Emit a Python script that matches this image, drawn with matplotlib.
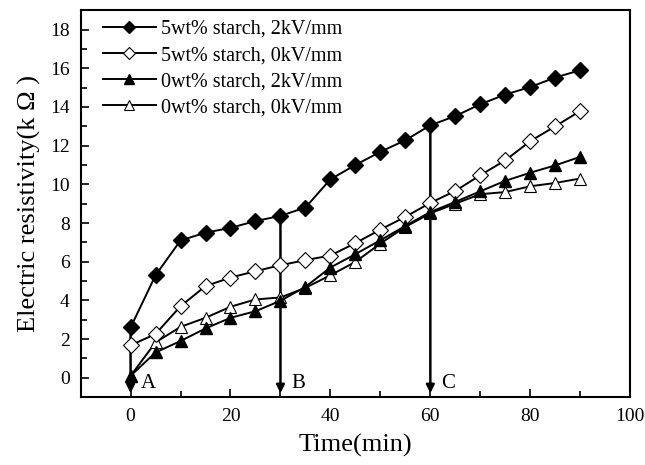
import matplotlib.pyplot as plt
from matplotlib.ticker import MultipleLocator

plt.rcParams['font.family'] = ['Liberation Serif', 'DejaVu Serif']

# Time points and resistivity values (k Ohm)
time = [0, 5, 10, 15, 20, 25, 30, 35, 40, 45, 50, 55, 60, 65, 70, 75, 80, 85, 90]
s5_2kv = [2.6, 5.3, 7.1, 7.5, 7.75, 8.1, 8.37, 8.8, 10.26, 11.0, 11.68, 12.28,
          13.05, 13.53, 14.14, 14.64, 15.03, 15.52, 15.9]
s5_0kv = [1.68, 2.26, 3.7, 4.74, 5.18, 5.51, 5.82, 6.08, 6.32, 6.96, 7.66, 8.32,
          9.04, 9.66, 10.47, 11.24, 12.23, 13.0, 13.79]
s0_2kv = [0.1, 1.31, 1.9, 2.55, 3.1, 3.44, 3.98, 4.7, 5.7, 6.39, 7.11, 7.85,
          8.57, 9.09, 9.64, 10.18, 10.6, 10.98, 11.42]
s0_0kv = [0.1, 1.83, 2.63, 3.1, 3.67, 4.05, 4.15, 4.65, 5.3, 5.99, 6.94, 7.8,
          8.5, 9.0, 9.49, 9.6, 9.9, 10.07, 10.3]

labels = ['5wt% starch, 2kV/mm', '5wt% starch, 0kV/mm',
          '0wt% starch, 2kV/mm', '0wt% starch, 0kV/mm']
arrow_times = [0, 30, 60]
arrow_labels = ['A', 'B', 'C']

fig = plt.figure(figsize=(6.45, 4.65), dpi=100)
ax = fig.add_axes([0.125, 0.146, 0.852, 0.832])

# Plot series (open markers drawn first so filled ones sit on top)
ax.plot(time, s0_0kv, '-', color='black', lw=1.4, marker='^', ms=9,
        mfc='white', mec='black', mew=0.8, label=labels[3], zorder=3)
ax.plot(time, s0_2kv, '-', color='black', lw=1.4, marker='^', ms=9,
        mfc='black', mec='black', label=labels[2], zorder=4)
ax.plot(time, s5_0kv, '-', color='black', lw=1.4, marker='D', ms=8,
        mfc='white', mec='black', mew=0.8, label=labels[1], zorder=3)
ax.plot(time, s5_2kv, '-', color='black', lw=1.4, marker='D', ms=8,
        mfc='black', mec='black', label=labels[0], zorder=4)

# Vertical arrows from the 5wt%/2kV curve down to the axis
for t, lab in zip(arrow_times, arrow_labels):
    y0 = s5_2kv[time.index(t)]
    ax.annotate('', xy=(t, -0.8), xytext=(t, y0),
                arrowprops=dict(arrowstyle='-|>', color='black', lw=1.8,
                                mutation_scale=12, shrinkA=0, shrinkB=0),
                zorder=2)
    ax.text(t + 3.5, -0.3, lab, fontsize=15, ha='center', va='center')

ax.set_xlim(-10, 100)
ax.set_ylim(-1, 19)
ax.xaxis.set_major_locator(MultipleLocator(20))
ax.xaxis.set_minor_locator(MultipleLocator(10))
ax.yaxis.set_major_locator(MultipleLocator(2))
ax.yaxis.set_minor_locator(MultipleLocator(1))
ax.tick_params(which='both', direction='in', top=False, right=False,
               labelsize=14, width=1.2)
ax.tick_params(which='major', length=6, pad=8)
ax.tick_params(which='minor', length=4)
for sp in ax.spines.values():
    sp.set_linewidth(1.5)

ax.set_xlabel('Time(min)', fontsize=19, labelpad=6)
ax.set_ylabel('Electric resistivity(k \u03a9 )', fontsize=19, labelpad=6)

handles, labs = ax.get_legend_handles_labels()
order = [3, 2, 1, 0]
ax.legend([handles[i] for i in order], [labs[i] for i in order],
          loc='upper left', frameon=False, fontsize=14.5, handlelength=2.6,
          handletextpad=0.25, labelspacing=0.35, borderaxespad=0,
          borderpad=0, markerscale=0.8, bbox_to_anchor=(0.041, 0.975))

fig.savefig('out.png', dpi=100)
